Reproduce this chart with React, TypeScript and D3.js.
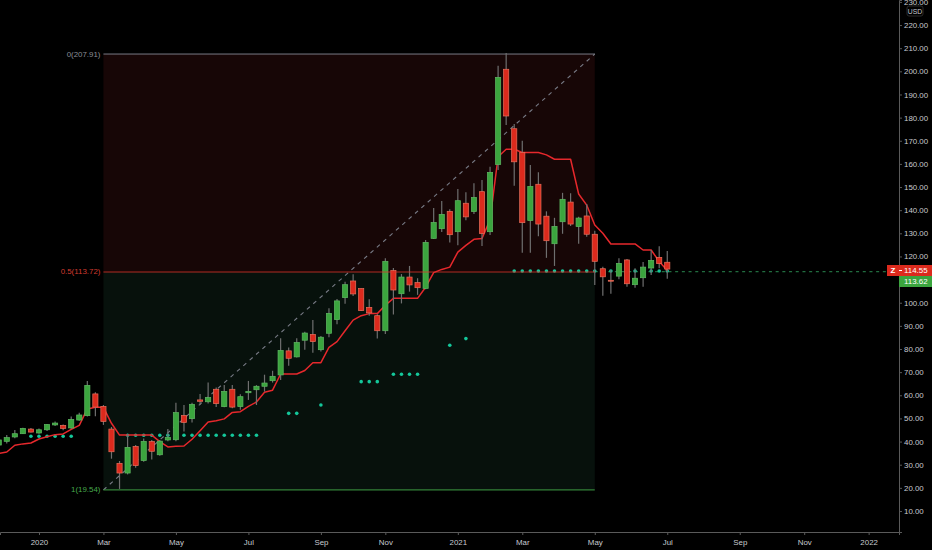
import { useEffect, useRef } from "react";
import * as d3 from "d3";

// weekly candles, first entry is index -11 (index 0 is the big late Feb 2020 candle)
const firstIndex = -11;

const opens = [
  38.5, 40.1, 42.0, 43.4, 45.4, 43.7, 45.1, 47.2, 47.0, 45.9, 49.3,
  51.2, 60.6, 55.2, 45.4, 30.6, 26.4, 37.9, 31.8, 40.0, 34.3,
  40.7, 40.8, 51.3, 49.9, 58.0, 57.2, 62.6, 55.1, 62.6, 55.1,
  61.1, 62.4, 63.9, 66.3, 68.8, 79.2, 76.6, 83.8, 86.3, 79.7,
  86.8, 92.7, 102.2, 109.4, 106.1, 98.0, 94.4, 87.9, 113.9, 103.9,
  111.1, 108.7, 106.2, 127.8, 132.0, 139.5, 130.7, 143.0, 139.4, 148.0,
  130.7, 159.7, 200.9, 175.2, 165.0, 135.5, 151.2, 137.4, 125.5, 135.0,
  143.5, 132.9, 137.5, 129.6, 114.7, 109.7, 111.5, 118.5, 107.8, 110.8, 115.0, 119.6, 117.5,
];

const highs = [
  41.8, 42.8, 45.0, 46.0, 45.9, 45.6, 47.6, 48.7, 47.4, 50.8, 52.5,
  66.2, 61.3, 55.8, 46.3, 31.6, 43.3, 38.5, 41.3, 40.7, 40.7,
  45.4, 56.8, 55.8, 56.8, 60.6, 65.5, 63.4, 64.4, 64.4, 60.4,
  66.2, 64.4, 68.9, 70.6, 84.6, 80.7, 84.6, 87.5, 92.5, 85.6,
  97.6, 101.6, 109.1, 112.3, 106.1, 101.5, 95.0, 119.2, 115.0, 112.4,
  115.9, 110.6, 127.1, 140.9, 144.0, 140.4, 149.1, 147.7, 151.6, 153.0,
  158.8, 202.4, 207.91, 177.2, 170.0, 159.5, 156.4, 139.5, 136.7, 147.5,
  147.3, 137.2, 142.7, 131.1, 115.6, 114.1, 119.2, 118.9, 114.9, 117.6, 122.8, 124.4, 122.4,
];

const lows = [
  37.8, 39.2, 41.4, 43.3, 43.9, 43.4, 44.6, 46.7, 44.9, 45.4, 49.0,
  50.8, 50.9, 47.2, 32.6, 19.54, 25.8, 28.7, 31.3, 32.3, 33.9,
  40.1, 40.1, 44.3, 48.2, 55.8, 56.5, 54.9, 54.8, 54.4, 53.7,
  58.0, 55.8, 61.6, 65.5, 66.6, 72.8, 76.3, 79.7, 78.4, 78.9,
  85.1, 90.7, 99.6, 102.9, 96.4, 94.4, 84.5, 86.5, 94.9, 99.7,
  104.8, 103.4, 105.8, 127.5, 130.6, 126.0, 124.8, 135.7, 138.4, 124.5,
  129.3, 157.4, 176.8, 150.6, 121.6, 121.6, 128.7, 119.4, 115.9, 129.8,
  133.2, 125.5, 128.5, 107.7, 103.0, 103.9, 110.1, 106.9, 106.5, 106.9, 112.0, 114.9, 110.4,
];

const closes = [
  40.7, 41.7, 43.4, 45.7, 44.1, 45.1, 47.4, 48.0, 45.7, 49.6, 51.5,
  64.3, 54.9, 48.7, 35.6, 26.4, 37.5, 29.6, 40.1, 35.8, 40.2,
  41.8, 52.5, 48.3, 56.1, 57.4, 59.0, 56.4, 61.7, 54.9, 59.4,
  61.7, 63.9, 65.3, 68.2, 79.4, 76.0, 82.8, 86.9, 83.2, 85.1,
  95.4, 100.8, 107.8, 103.8, 96.6, 95.6, 87.9, 117.9, 105.5, 111.1,
  107.7, 106.5, 126.1, 134.7, 138.2, 129.4, 144.1, 137.1, 145.5, 129.9,
  156.3, 197.4, 180.7, 160.9, 134.6, 150.3, 134.0, 126.8, 133.0, 144.7,
  134.0, 136.6, 129.6, 117.9, 111.2, 109.3, 117.0, 108.2, 110.6, 115.4, 118.3, 116.9, 114.55,
];

// red trailing line, one value per candle
const trail = [
  34.9, 35.5, 38.4, 39.0, 39.4, 41.1, 42.1, 43.0, 43.3, 45.3, 47.0,
  54.1, 54.8, 54.8, 47.9, 42.8, 42.8, 42.8, 42.8, 42.8, 40.0,
  37.7, 38.0, 38.1, 41.0, 44.7, 48.5, 49.0, 49.8, 52.6, 52.9,
  55.2, 57.1, 61.3, 62.2, 69.2, 69.2, 69.2, 70.7, 74.1, 74.1,
  80.7, 83.2, 87.9, 92.5, 94.4, 95.3, 95.3, 98.9, 101.9, 101.9,
  101.9, 101.9, 106.7, 113.0, 114.4, 115.4, 121.9, 124.8, 127.4, 127.8,
  135.8, 163.1, 166.3, 166.3, 164.9, 164.9, 164.9, 163.9, 162.0, 162.0,
  162.0, 147.0, 142.2, 133.6, 130.0, 125.4, 125.4, 125.4, 125.4, 122.8, 122.8, 117.8, 113.9,
];

// teal dots
const dotIndexes = [
  -7, -6, -5, -4, -3, -2,
  5, 6, 7, 8, 9, 10, 11, 12, 13, 14, 15, 16, 17, 18, 19, 20, 21,
  25, 26, 29, 34, 35, 36, 38, 39, 40, 41, 45, 47,
  53, 54, 55, 56, 57, 58, 59, 60, 61, 62, 63, 64, 65, 66, 67, 68, 69, 70, 71, 72,
];
const dotValues = [
  42.3, 42.3, 42.3, 42.3, 42.3, 42.3,
  42.7, 42.7, 42.7, 42.7, 42.7, 42.7, 42.7, 42.7, 42.7, 42.7, 42.7, 42.7, 42.7, 42.7, 42.7, 42.7, 42.7,
  52.2, 52.2, 55.8, 65.9, 65.9, 65.9, 69.1, 69.1, 69.1, 69.1, 81.6, 84.5,
  113.7, 113.7, 113.7, 113.7, 113.7, 113.7, 113.7, 113.7, 113.7, 113.7,
  113.7, 113.7, 113.7, 113.7, 113.7, 113.7, 113.7, 113.7, 113.7, 113.7,
];

const priceTicks = [
  10, 20, 30, 40, 50, 60, 70, 80, 90, 100, 110, 120, 130, 140, 150, 160, 170, 180, 190, 200, 210, 220, 230,
];
const timeTickIndexes = [-6, 2, 11, 20, 29, 37, 46, 54, 63, 72, 81, 89, 97];
const timeTickLabels = ["2020", "Mar", "May", "Jul", "Sep", "Nov", "2021", "Mar", "May", "Jul", "Sep", "Nov", "2022"];

const fibStart = 2;
const fibEnd = 63;
const fibHigh = 207.91;
const fibMid = 113.72;
const fibLow = 19.54;

const lastPrice = 114.55;
const otherPrice = 113.62;

export default function App() {
  const svgRef = useRef<SVGSVGElement>(null);

  useEffect(() => {
    if (!svgRef.current) return;

    d3.select(svgRef.current).selectAll("*").remove();

    const width = 932;
    const height = 550;
    const axisX = 899;
    const axisY = 532;
    const font = "'Liberation Sans', Arial, sans-serif";
    const fontSize = 7.9;

    const svg = d3
      .select(svgRef.current)
      .attr("width", width)
      .attr("height", height)
      .attr("viewBox", `0 0 ${width} ${height}`);

    const xScale = d3.scaleLinear().domain([-10.84, 100.77]).range([0, axisX]);
    const yScale = d3.scaleLinear().domain([0.92, 230.83]).range([axisY, 0]);
    // fib drawing sits about a pixel below the price scale in the source picture
    const fibY = (v: number) => yScale(v) + 1;

    const candles = opens.map((open, i) => ({
      index: firstIndex + i,
      open,
      high: highs[i],
      low: lows[i],
      close: closes[i],
    }));

    svg.append("rect").attr("width", width).attr("height", height).attr("fill", "#000");

    const plot = svg.append("g");

    // Fib zones
    plot
      .append("rect")
      .attr("x", xScale(fibStart))
      .attr("y", fibY(fibHigh))
      .attr("width", xScale(fibEnd) - xScale(fibStart))
      .attr("height", fibY(fibMid) - fibY(fibHigh))
      .attr("fill", "#170606");
    plot
      .append("rect")
      .attr("x", xScale(fibStart))
      .attr("y", fibY(fibMid))
      .attr("width", xScale(fibEnd) - xScale(fibStart))
      .attr("height", fibY(fibLow) - fibY(fibMid))
      .attr("fill", "#07110c");

    // Diagonal trend line of the fib
    plot
      .append("line")
      .attr("x1", xScale(fibStart))
      .attr("y1", fibY(fibLow))
      .attr("x2", xScale(fibEnd))
      .attr("y2", fibY(fibHigh))
      .attr("stroke", "#787b86")
      .attr("stroke-width", 1.1)
      .attr("stroke-dasharray", "4 4.5");

    // Fib top and bottom levels
    plot
      .append("line")
      .attr("x1", xScale(fibStart))
      .attr("x2", xScale(fibEnd))
      .attr("y1", fibY(fibHigh))
      .attr("y2", fibY(fibHigh))
      .attr("stroke", "#787b86");
    plot
      .append("line")
      .attr("x1", xScale(fibStart))
      .attr("x2", xScale(fibEnd))
      .attr("y1", fibY(fibLow))
      .attr("y2", fibY(fibLow))
      .attr("stroke", "#3f9f45");

    // Fib labels
    const fibLabels = [
      { text: `0(${fibHigh})`, value: fibHigh, color: "#8a8d96" },
      { text: `0.5(${fibMid})`, value: fibMid, color: "#d13a2f" },
      { text: `1(${fibLow})`, value: fibLow, color: "#46a84c" },
    ];
    fibLabels.forEach((d) => {
      plot
        .append("text")
        .attr("x", xScale(fibStart) - 3)
        .attr("y", fibY(d.value) + 2.5)
        .attr("text-anchor", "end")
        .attr("font-family", font)
        .attr("font-size", fontSize)
        .attr("fill", d.color)
        .text(d.text);
    });

    // Price line of the second series
    plot
      .append("line")
      .attr("x1", xScale(fibEnd))
      .attr("x2", 886)
      .attr("y1", yScale(otherPrice) + 0.5)
      .attr("y2", yScale(otherPrice) + 0.5)
      .attr("stroke", "#2a8a50")
      .attr("stroke-dasharray", "3 3.7");

    // Teal dots
    plot
      .selectAll(".dot")
      .data(dotIndexes)
      .enter()
      .append("circle")
      .attr("class", "dot")
      .attr("cx", (d) => xScale(d))
      .attr("cy", (_, i) => yScale(dotValues[i]))
      .attr("r", 1.8)
      .attr("fill", "#14c79a");

    // Red line
    const line = d3
      .line<number>()
      .x((_, i) => xScale(firstIndex + i))
      .y((d) => yScale(d));
    plot
      .append("path")
      .attr("d", line(trail))
      .attr("fill", "none")
      .attr("stroke", "#e6282c")
      .attr("stroke-width", 1.5)
      .attr("stroke-linejoin", "round");

    // Candles
    const bodyWidth = 5.2;
    const candle = plot
      .selectAll(".candle")
      .data(candles)
      .enter()
      .append("g")
      .attr("class", "candle");

    candle
      .append("line")
      .attr("x1", (d) => xScale(d.index))
      .attr("x2", (d) => xScale(d.index))
      .attr("y1", (d) => yScale(d.high))
      .attr("y2", (d) => yScale(d.low))
      .attr("stroke", "#6f6f6f")
      .attr("stroke-width", 1.2);

    candle
      .append("rect")
      .attr("x", (d) => xScale(d.index) - bodyWidth / 2)
      .attr("y", (d) => yScale(Math.max(d.open, d.close)))
      .attr("width", bodyWidth)
      .attr("height", (d) => Math.max(0.6, Math.abs(yScale(d.open) - yScale(d.close))))
      .attr("fill", (d) => (d.close >= d.open ? "#3ba53e" : "#dc2a1d"))
      .attr("stroke", (d) => (d.close >= d.open ? "#5fb863" : "#e8705c"))
      .attr("stroke-width", 0.7);

    // Middle level sits on top of the candles
    plot
      .append("line")
      .attr("x1", xScale(fibStart))
      .attr("x2", xScale(fibEnd))
      .attr("y1", fibY(fibMid))
      .attr("y2", fibY(fibMid))
      .attr("stroke", "#d8342c")
      .attr("stroke-opacity", 0.8)
      .attr("stroke-width", 1.2);

    // Axes
    const yAxis = d3
      .axisRight(yScale)
      .tickValues(priceTicks)
      .tickFormat((d) => (d as number).toFixed(2))
      .tickSize(3)
      .tickPadding(2);
    const xAxis = d3
      .axisBottom(xScale)
      .tickValues(timeTickIndexes)
      .tickFormat((_, i) => timeTickLabels[i])
      .tickSize(3)
      .tickPadding(4);

    const yG = svg.append("g").attr("transform", `translate(${axisX},0)`).call(yAxis);
    const xG = svg.append("g").attr("transform", `translate(0,${axisY})`).call(xAxis);

    [yG, xG].forEach((g) => {
      g.select(".domain").attr("stroke", "#5a5a5a");
      g.selectAll(".tick line").attr("stroke", "#5a5a5a");
      g.selectAll(".tick text")
        .attr("fill", "#c8cad0")
        .attr("font-family", font)
        .attr("font-size", fontSize);
    });

    // USD tag
    svg
      .append("rect")
      .attr("x", 907)
      .attr("y", 6)
      .attr("width", 16)
      .attr("height", 10)
      .attr("rx", 2)
      .attr("fill", "#000")
      .attr("stroke", "#2a2a2a");
    svg
      .append("text")
      .attr("x", 915)
      .attr("y", 13.5)
      .attr("text-anchor", "middle")
      .attr("font-family", font)
      .attr("font-size", 6.8)
      .attr("fill", "#c8cad0")
      .text("USD");

    // Last price tags
    svg.append("rect").attr("x", 887).attr("y", 265).attr("width", 12).attr("height", 11).attr("fill", "#dc2a1d");
    svg
      .append("text")
      .attr("x", 893)
      .attr("y", 273)
      .attr("text-anchor", "middle")
      .attr("font-family", font)
      .attr("font-size", fontSize)
      .attr("font-weight", "bold")
      .attr("fill", "#fff")
      .text("Z");

    const priceTags = [
      { value: lastPrice, y: 265, fill: "#dc2a1d" },
      { value: otherPrice, y: 276, fill: "#3ba53e" },
    ];
    priceTags.forEach((d) => {
      svg.append("rect").attr("x", axisX).attr("y", d.y).attr("width", 33).attr("height", 11).attr("fill", d.fill);
      svg
        .append("text")
        .attr("x", 904)
        .attr("y", d.y + 8)
        .attr("font-family", font)
        .attr("font-size", fontSize)
        .attr("fill", "#fff")
        .text(d.value.toFixed(2));
    });
    svg.append("line").attr("x1", axisX).attr("x2", 902).attr("y1", 270.5).attr("y2", 270.5).attr("stroke", "#fff");
  }, []);

  return <svg ref={svgRef} style={{ position: "fixed", left: 0, top: 0, display: "block" }}></svg>;
}
